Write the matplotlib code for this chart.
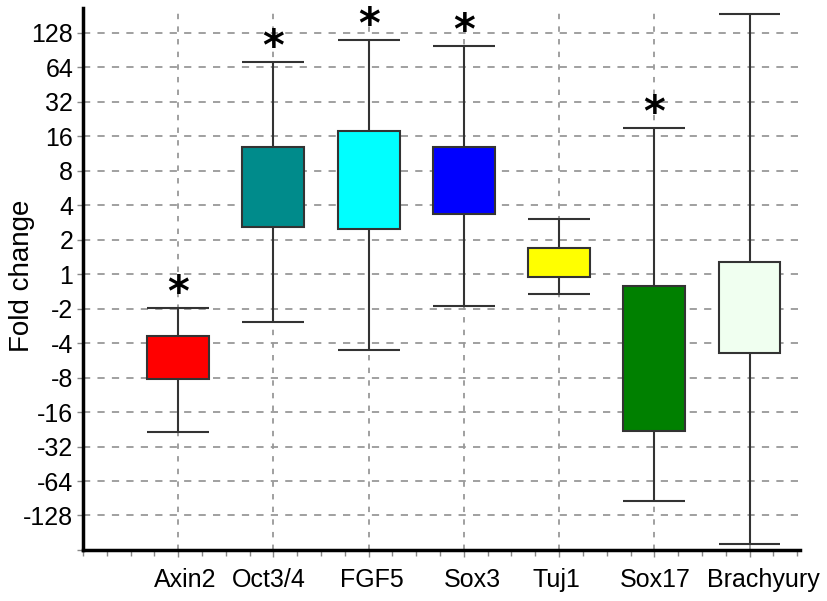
import matplotlib.pyplot as plt
from matplotlib.ticker import MultipleLocator

plt.rcParams['font.family'] = ['Liberation Sans', 'DejaVu Sans']

# expression values on a log2 scale (1 = no change, -2 = two-fold down)
genes = ['Axin2', 'Oct3/4', 'FGF5', 'Sox3', 'Tuj1', 'Sox17', 'Brachyury']
box_low = [-3.04, 1.36, 1.30, 1.74, -0.09, -4.54, -2.29]
box_high = [-1.79, 3.70, 4.14, 3.70, 0.75, -0.35, 0.35]
whisk_low = [-4.57, -1.39, -2.20, -0.93, -0.58, -6.57, -7.84]
whisk_high = [-0.98, 6.16, 6.80, 6.62, 1.59, 4.25, 7.55]
significant = [True, True, True, True, False, True, False]
colors = ['#ff0000', '#008b8b', '#00ffff', '#0000ff', '#ffff00', '#008000', '#f0fff0']

tick_pos = list(range(-7, 8))

# small horizontal nudges (points) for the gene names
label_shift = [5, -3, 2, 6, -2, 1, 10]


def fold_label(k):
    if k >= 0:
        return str(2 ** k)
    return str(-(2 ** -k))


fig = plt.figure(figsize=(8.28, 6.01), dpi=100)
ax = fig.add_axes([0.1002, 0.0849, 0.866, 0.9018])

x = list(range(len(genes)))
w = 0.65

ax.vlines(x, whisk_low, box_low, color='#333333', lw=1.5, zorder=2)
ax.vlines(x, box_high, whisk_high, color='#333333', lw=1.5, zorder=2)
ax.hlines(whisk_low, [i - w / 2 for i in x], [i + w / 2 for i in x], color='#333333', lw=1.5, zorder=2)
ax.hlines(whisk_high, [i - w / 2 for i in x], [i + w / 2 for i in x], color='#333333', lw=1.5, zorder=2)
ax.bar(x, [h - l for h, l in zip(box_high, box_low)], bottom=box_low, width=w,
       color=colors, edgecolor='#333333', linewidth=1.5, zorder=3)

# asterisks for significant changes
for i, s in enumerate(significant):
    if s:
        ax.text(i, whisk_high[i] + 0.05, '*', ha='center', va='baseline',
                fontsize=30, fontweight='bold', family='DejaVu Sans')

ax.set_xlim(-1, 6.53)
ax.set_ylim(-8, 7.72)
ax.set_xticks(x)
ax.set_xticklabels([])
for i, (g, dx) in enumerate(zip(genes, label_shift)):
    ax.annotate(g, (i, 0), xycoords=('data', 'axes fraction'), xytext=(dx, -13),
                textcoords='offset points', ha='center', va='top', fontsize=18)
ax.xaxis.set_minor_locator(MultipleLocator(0.25))
ax.set_yticks(tick_pos + [-8])
ax.set_yticklabels([fold_label(k) for k in tick_pos] + [''], fontsize=18)
fig.text(0.027, 0.541, 'Fold change', rotation=90, ha='center', va='center', fontsize=20)

ax.grid(True, which='major', axis='y', color='#999999', linestyle=(0, (4, 4)), lw=1.3, zorder=0)
ax.grid(True, which='major', axis='x', color='#999999', linestyle=(0, (3, 4)), lw=1.3, zorder=0)
ax.set_axisbelow(True)

ax.spines['top'].set_visible(False)
ax.spines['right'].set_visible(False)
ax.spines['left'].set_linewidth(2.5)
ax.spines['bottom'].set_linewidth(2.5)
ax.tick_params(axis='y', which='major', length=4, width=1, color='#888888', pad=3)
ax.tick_params(axis='x', which='major', length=5, width=1, color='#888888', pad=8)
ax.tick_params(axis='x', which='minor', length=4, width=1, color='#888888')

fig.savefig('out.png', dpi=100)
